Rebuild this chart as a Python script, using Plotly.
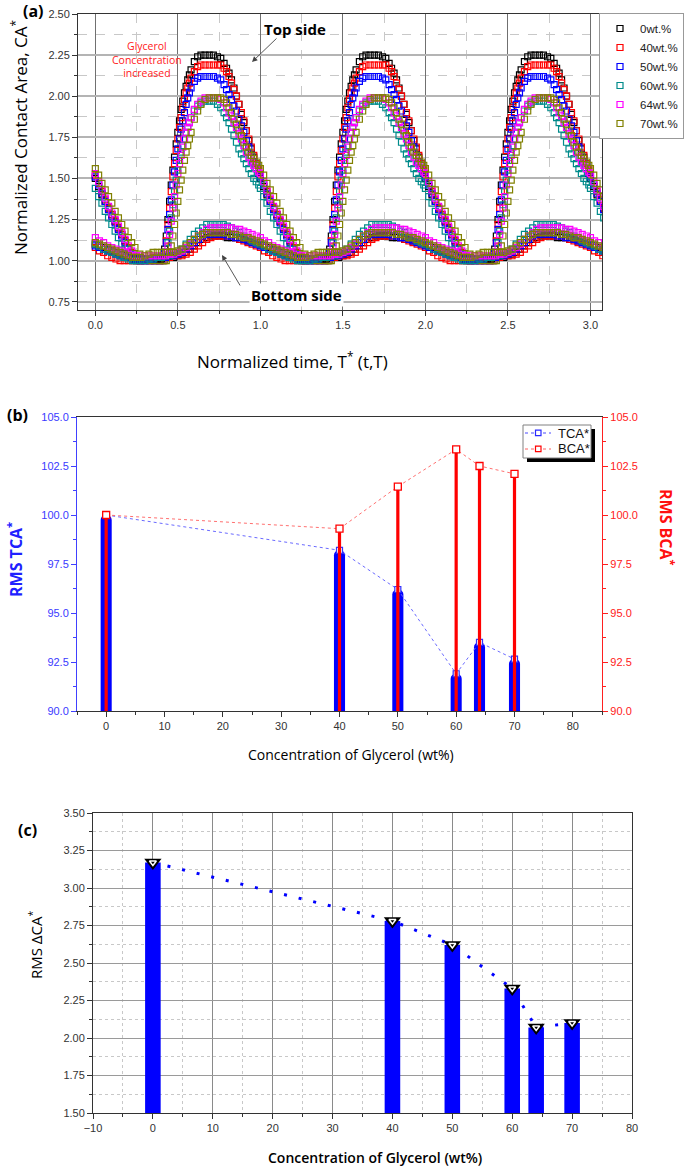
import numpy as np
import plotly.graph_objects as go

W, H = 685, 1168

# ---------------- Panel (a) data: one period of normalized time ----------------
n_cycles = 4
t_max = 3.1

labels_a = ["0wt.%", "40wt.%", "50wt.%", "60wt.%", "64wt.%", "70wt.%"]
colors_a = ["#000000", "#ff0000", "#0000ff", "#008b8b", "#ff00ff", "#808000"]

# sampling instants of the top-side curves within one period (denser where the curves are steep)
top_t = [0.00, 0.02, 0.04, 0.06, 0.08, 0.10, 0.12, 0.14, 0.16, 0.18, 0.20, 0.22, 0.24,
         0.27, 0.30, 0.33, 0.36, 0.39,
         0.41, 0.42, 0.43, 0.44, 0.45, 0.46, 0.47, 0.48, 0.49, 0.50, 0.51, 0.52, 0.53, 0.54,
         0.55, 0.56, 0.57, 0.58,
         0.60, 0.62, 0.64,
         0.665, 0.69, 0.715, 0.74, 0.76,
         0.78, 0.795, 0.81, 0.825, 0.84, 0.855, 0.87, 0.885, 0.90, 0.915, 0.93, 0.945, 0.96, 0.975, 0.99]

top_0 = [1.50, 1.45, 1.40, 1.36, 1.32, 1.28, 1.24, 1.20, 1.16, 1.12, 1.08, 1.05, 1.02,
         1.00, 1.00, 1.00, 1.00, 1.00,
         1.03, 1.07, 1.15, 1.25, 1.36, 1.46, 1.55, 1.63, 1.71, 1.78, 1.85, 1.92, 1.97, 2.02,
         2.06, 2.10, 2.13, 2.16,
         2.21, 2.24, 2.25,
         2.25, 2.25, 2.25, 2.24, 2.23,
         2.20, 2.17, 2.14, 2.10, 2.05, 2.00, 1.95, 1.89, 1.84, 1.79, 1.73, 1.68, 1.63, 1.58, 1.53]
top_40 = [1.52, 1.47, 1.42, 1.37, 1.32, 1.28, 1.24, 1.20, 1.16, 1.12, 1.08, 1.05, 1.02,
          1.00, 1.00, 1.00, 1.00, 1.00,
          1.02, 1.05, 1.12, 1.22, 1.32, 1.42, 1.51, 1.59, 1.67, 1.74, 1.81, 1.87, 1.93, 1.98,
          2.02, 2.05, 2.08, 2.11,
          2.15, 2.18, 2.19,
          2.19, 2.19, 2.19, 2.19, 2.19,
          2.17, 2.15, 2.12, 2.08, 2.04, 2.00, 1.95, 1.90, 1.85, 1.79, 1.74, 1.69, 1.64, 1.59, 1.55]
top_50 = [1.51, 1.46, 1.41, 1.36, 1.31, 1.27, 1.23, 1.19, 1.15, 1.11, 1.07, 1.04, 1.01,
          1.00, 1.00, 1.00, 1.00, 1.00,
          1.02, 1.05, 1.11, 1.19, 1.28, 1.37, 1.46, 1.54, 1.61, 1.68, 1.74, 1.80, 1.85, 1.90,
          1.95, 1.99, 2.02, 2.05,
          2.09, 2.11, 2.12,
          2.12, 2.12, 2.12, 2.11, 2.10,
          2.07, 2.04, 2.01, 1.98, 1.94, 1.91, 1.86, 1.82, 1.78, 1.73, 1.69, 1.64, 1.60, 1.56, 1.53]
top_60 = [1.44, 1.39, 1.35, 1.30, 1.26, 1.22, 1.18, 1.14, 1.10, 1.07, 1.04, 1.02, 1.00,
          1.00, 1.00, 1.00, 1.00, 1.00,
          1.00, 1.01, 1.05, 1.11, 1.18, 1.26, 1.34, 1.42, 1.49, 1.55, 1.61, 1.66, 1.70, 1.74,
          1.78, 1.81, 1.84, 1.87,
          1.91, 1.94, 1.96,
          1.97, 1.97, 1.97, 1.95, 1.93,
          1.90, 1.87, 1.84, 1.80, 1.76, 1.72, 1.68, 1.65, 1.62, 1.59, 1.56, 1.53, 1.50, 1.48, 1.46]
top_64 = [1.53, 1.48, 1.43, 1.38, 1.33, 1.29, 1.25, 1.21, 1.17, 1.13, 1.09, 1.06, 1.03,
          1.00, 1.00, 1.00, 1.00, 1.00,
          1.00, 1.01, 1.04, 1.09, 1.16, 1.24, 1.32, 1.39, 1.46, 1.53, 1.59, 1.64, 1.69, 1.74,
          1.78, 1.81, 1.84, 1.87,
          1.92, 1.95, 1.97,
          1.99, 1.99, 1.99, 1.99, 1.98,
          1.96, 1.93, 1.90, 1.88, 1.84, 1.81, 1.77, 1.74, 1.70, 1.66, 1.63, 1.60, 1.58, 1.56, 1.54]
top_70 = [1.56, 1.52, 1.47, 1.43, 1.39, 1.35, 1.30, 1.26, 1.22, 1.18, 1.14, 1.11, 1.08,
          1.04, 1.01, 1.00, 1.00, 1.00,
          1.00, 1.00, 1.00, 1.02, 1.05, 1.09, 1.15, 1.22, 1.29, 1.36, 1.43, 1.49, 1.55, 1.61,
          1.66, 1.70, 1.74, 1.78,
          1.86, 1.91, 1.95,
          1.98, 1.99, 1.99, 1.99, 1.99,
          1.98, 1.96, 1.93, 1.90, 1.86, 1.83, 1.79, 1.76, 1.72, 1.69, 1.66, 1.64, 1.62, 1.60, 1.58]

# sampling instants of the bottom-side curves within one period
bot_t = list(np.arange(0, 1, 0.025))

bot_0 = [1.10, 1.09, 1.08, 1.07, 1.06, 1.05, 1.04, 1.03, 1.02, 1.01,
         1.01, 1.01, 1.01, 1.01, 1.01, 1.01, 1.01, 1.02, 1.02, 1.02,
         1.03, 1.04, 1.05, 1.07, 1.09, 1.11, 1.13, 1.14, 1.15, 1.15,
         1.15, 1.15, 1.14, 1.14, 1.14, 1.13, 1.13, 1.12, 1.12, 1.11]
bot_40 = [1.08, 1.06, 1.05, 1.03, 1.02, 1.01, 1.00, 1.00, 1.00, 1.00,
          1.00, 1.00, 1.01, 1.01, 1.02, 1.02, 1.02, 1.02, 1.02, 1.03,
          1.03, 1.03, 1.04, 1.05, 1.07, 1.09, 1.11, 1.13, 1.14, 1.15,
          1.15, 1.15, 1.15, 1.15, 1.14, 1.13, 1.12, 1.11, 1.10, 1.09]
bot_50 = [1.09, 1.08, 1.07, 1.06, 1.05, 1.04, 1.03, 1.02, 1.02, 1.01,
          1.01, 1.01, 1.01, 1.01, 1.01, 1.02, 1.02, 1.02, 1.03, 1.03,
          1.04, 1.05, 1.07, 1.09, 1.11, 1.13, 1.15, 1.16, 1.16, 1.16,
          1.16, 1.16, 1.15, 1.15, 1.14, 1.14, 1.13, 1.12, 1.11, 1.10]
bot_60 = [1.10, 1.09, 1.07, 1.06, 1.05, 1.04, 1.03, 1.02, 1.01, 1.00,
          1.00, 1.00, 1.00, 1.01, 1.01, 1.02, 1.02, 1.03, 1.03, 1.04,
          1.05, 1.07, 1.10, 1.13, 1.16, 1.18, 1.20, 1.22, 1.22, 1.22,
          1.22, 1.22, 1.21, 1.20, 1.18, 1.17, 1.15, 1.14, 1.12, 1.11]
bot_64 = [1.14, 1.12, 1.11, 1.09, 1.08, 1.07, 1.06, 1.05, 1.04, 1.03,
          1.03, 1.03, 1.03, 1.03, 1.03, 1.03, 1.03, 1.03, 1.04, 1.04,
          1.05, 1.06, 1.08, 1.10, 1.13, 1.15, 1.17, 1.19, 1.20, 1.20,
          1.20, 1.20, 1.20, 1.20, 1.19, 1.19, 1.18, 1.17, 1.16, 1.15]
bot_70 = [1.11, 1.10, 1.09, 1.08, 1.07, 1.06, 1.05, 1.04, 1.03, 1.02,
          1.02, 1.02, 1.03, 1.04, 1.05, 1.05, 1.05, 1.05, 1.05, 1.05,
          1.06, 1.07, 1.09, 1.11, 1.13, 1.15, 1.16, 1.17, 1.17, 1.17,
          1.17, 1.17, 1.17, 1.16, 1.16, 1.15, 1.14, 1.14, 1.13, 1.12]

top_series = [top_0, top_40, top_50, top_60, top_64, top_70]
bot_series = [bot_0, bot_40, bot_50, bot_60, bot_64, bot_70]

# ---------------- Panel (b) / (c) data ----------------
conc = [0, 40, 50, 60, 64, 70]
rms_tca = [100.0, 98.2, 96.2, 91.9, 93.5, 92.65]
rms_bca = [100.0, 99.3, 101.45, 103.35, 102.5, 102.1]
rms_dca = [3.17, 2.78, 2.62, 2.33, 2.07, 2.10]
legend_b_labels = ["TCA*", "BCA*"]


def px(x):
    return x / W


def py(y):
    return 1 - y / H


def repeat_cycles(ts, vals):
    t_all, v_all = [], []
    for k in range(n_cycles):
        for tt, vv in zip(ts, vals):
            if tt + k <= t_max:
                t_all.append(tt + k)
                v_all.append(vv)
    return t_all, v_all


fig = go.Figure()

# Panel (a) traces
for lab, col, top in zip(labels_a, colors_a, top_series):
    tx, ty = repeat_cycles(top_t, top)
    fig.add_trace(go.Scatter(x=tx, y=ty, mode="markers", name=lab, legendgroup=lab,
                             marker=dict(symbol="square-open", size=6, color=col, line=dict(width=1.2, color=col)),
                             xaxis="x", yaxis="y"))
for lab, col, bot in zip(labels_a, colors_a, bot_series):
    tx, ty = repeat_cycles(bot_t, bot)
    fig.add_trace(go.Scatter(x=tx, y=ty, mode="markers", name=lab, legendgroup=lab, showlegend=False,
                             marker=dict(symbol="square-open", size=6, color=col, line=dict(width=1.2, color=col)),
                             xaxis="x", yaxis="y"))

# Panel (b) traces
fig.add_trace(go.Bar(x=conc, y=rms_tca, width=1.9, marker=dict(color="#0000ff", cornerradius="50%", line=dict(width=0)),
                     showlegend=False, xaxis="x2", yaxis="y2"))
fig.add_trace(go.Bar(x=conc, y=rms_bca, width=0.55, marker=dict(color="#ff0000", line=dict(width=0)),
                     showlegend=False, xaxis="x2", yaxis="y3"))
fig.add_trace(go.Scatter(x=conc, y=rms_tca, mode="lines+markers", name=legend_b_labels[0], showlegend=False,
                         line=dict(color="#6a6aff", width=1, dash="dot"),
                         marker=dict(symbol="square", size=6, color="white", line=dict(color="#3030ff", width=1.2)),
                         xaxis="x2", yaxis="y2"))
fig.add_trace(go.Scatter(x=conc, y=rms_bca, mode="lines+markers", name=legend_b_labels[1], showlegend=False,
                         line=dict(color="#ff7070", width=1, dash="dot"),
                         marker=dict(symbol="square", size=7, color="white", line=dict(color="#ff0000", width=1.3)),
                         xaxis="x2", yaxis="y3"))

# Panel (c) traces
fig.add_trace(go.Bar(x=conc, y=rms_dca, width=2.6, marker=dict(color="#0000ff", line=dict(width=0)),
                     showlegend=False, xaxis="x3", yaxis="y4"))
fig.add_trace(go.Scatter(x=conc, y=rms_dca, mode="lines", line=dict(color="#0000ff", width=3, dash="3px,12px"),
                         showlegend=False, xaxis="x3", yaxis="y4"))
fig.add_trace(go.Scatter(x=conc, y=rms_dca, mode="markers",
                         marker=dict(symbol="triangle-down", size=15, color="black", line=dict(width=0)),
                         showlegend=False, xaxis="x3", yaxis="y4"))
fig.add_trace(go.Scatter(x=conc, y=rms_dca, mode="markers",
                         marker=dict(symbol="triangle-down-open", size=6, color="white", line=dict(width=1.5, color="white")),
                         showlegend=False, xaxis="x3", yaxis="y4"))

tick_font = dict(family="Liberation Sans Narrow, Liberation Sans, Arial", size=11, color="#333333")

# ---------------- Axes ----------------
layout_axes = dict(
    # panel (a)
    xaxis=dict(domain=[px(78), px(602)], range=[-0.105, 3.07], anchor="y",
               tickmode="linear", tick0=0, dtick=0.5, tickformat=".1f",
               ticks="outside", ticklen=5, tickcolor="#333", tickfont=tick_font,
               showline=True, linecolor="#333", linewidth=1, mirror=True,
               showgrid=True, gridcolor="#707070", gridwidth=1, zeroline=False,
               minor=dict(dtick=0.25, ticks="outside", ticklen=3, tickcolor="#333",
                          showgrid=True, gridcolor="#c8c8c8", griddash="dash", gridwidth=1)),
    yaxis=dict(domain=[py(310), py(14)], range=[0.7, 2.5], anchor="x",
               tickmode="linear", tick0=0, dtick=0.25, tickformat=".2f",
               ticks="outside", ticklen=5, tickcolor="#333", tickfont=tick_font,
               showline=True, linecolor="#333", linewidth=1, mirror=True,
               showgrid=True, gridcolor="#b4b4b4", gridwidth=1.5, zeroline=False,
               minor=dict(dtick=0.125, ticks="outside", ticklen=3, tickcolor="#333",
                          showgrid=True, gridcolor="#c8c8c8", griddash="dash", gridwidth=1)),
    xaxis5=dict(overlaying="x", side="top", anchor="y", range=[-0.105, 3.07],
                tickmode="linear", tick0=0, dtick=0.5, ticks="inside", ticklen=4, tickcolor="#333",
                showticklabels=False, showgrid=False, zeroline=False, showline=False,
                minor=dict(dtick=0.25, ticks="inside", ticklen=3, tickcolor="#333")),
    yaxis5=dict(overlaying="y", side="right", anchor="x", range=[0.7, 2.5],
                tickmode="linear", tick0=0, dtick=0.25, ticks="inside", ticklen=4, tickcolor="#333",
                showticklabels=False, showgrid=False, zeroline=False, showline=False,
                minor=dict(dtick=0.125, ticks="inside", ticklen=3, tickcolor="#333")),
    # panel (b)
    xaxis2=dict(domain=[px(77), px(602)], range=[-5, 85], anchor="y2",
                tickmode="linear", tick0=0, dtick=10, ticks="outside", ticklen=5, tickcolor="#333",
                tickfont=tick_font, showline=True, linecolor="#333", linewidth=1, mirror=True,
                showgrid=False, zeroline=False,
                minor=dict(dtick=5, ticks="outside", ticklen=3, tickcolor="#333")),
    xaxis4=dict(overlaying="x2", side="top", anchor="y2", range=[-5, 85],
                tickmode="linear", tick0=0, dtick=10, ticks="inside", ticklen=5, tickcolor="#333",
                showticklabels=False, showgrid=False, zeroline=False, showline=False,
                minor=dict(dtick=5, ticks="inside", ticklen=3, tickcolor="#333")),
    yaxis2=dict(domain=[py(711), py(417)], range=[90, 105], anchor="x2",
                tickmode="linear", tick0=0, dtick=2.5, tickformat=".1f",
                ticks="outside", ticklen=5, tickcolor="#4040ff",
                tickfont=dict(family="Liberation Sans Narrow, Liberation Sans, Arial", size=11, color="#3a3aff"),
                showline=True, linecolor="#4040ff", linewidth=1, showgrid=False, zeroline=False,
                minor=dict(dtick=1.25, ticks="outside", ticklen=3, tickcolor="#4040ff")),
    yaxis3=dict(overlaying="y2", side="right", anchor="x2", range=[90, 105],
                tickmode="linear", tick0=0, dtick=2.5, tickformat=".1f",
                ticks="outside", ticklen=5, tickcolor="#ff2020",
                tickfont=dict(family="Liberation Sans Narrow, Liberation Sans, Arial", size=11, color="#ff2020"),
                showline=True, linecolor="#ff2020", linewidth=1.3, showgrid=False, zeroline=False,
                minor=dict(dtick=1.25, ticks="outside", ticklen=3, tickcolor="#ff2020")),
    # panel (c)
    xaxis3=dict(domain=[px(93), px(632)], range=[-10, 80], anchor="y4",
                tickmode="linear", tick0=0, dtick=10, ticks="outside", ticklen=5, tickcolor="#333",
                tickfont=tick_font, showline=True, linecolor="#333", linewidth=1, mirror=True,
                showgrid=True, gridcolor="#8a8a8a", gridwidth=1, zeroline=False,
                minor=dict(dtick=5, ticks="outside", ticklen=3, tickcolor="#333",
                           showgrid=True, gridcolor="#c8c8c8", griddash="dot", gridwidth=1)),
    yaxis4=dict(domain=[py(1113), py(813)], range=[1.5, 3.5], anchor="x3",
                tickmode="linear", tick0=0, dtick=0.25, tickformat=".2f",
                ticks="outside", ticklen=5, tickcolor="#333", tickfont=tick_font,
                showline=True, linecolor="#333", linewidth=1, mirror=True,
                showgrid=True, gridcolor="#9a9a9a", gridwidth=1.3, zeroline=False,
                minor=dict(dtick=0.125, ticks="outside", ticklen=3, tickcolor="#333",
                           showgrid=True, gridcolor="#c8c8c8", griddash="dot", gridwidth=1)),
    xaxis6=dict(overlaying="x3", side="top", anchor="y4", range=[-10, 80],
                tickmode="linear", tick0=0, dtick=10, ticks="inside", ticklen=4, tickcolor="#333",
                showticklabels=False, showgrid=False, zeroline=False, showline=False,
                minor=dict(dtick=5, ticks="inside", ticklen=3, tickcolor="#333")),
    yaxis6=dict(overlaying="y4", side="right", anchor="x3", range=[1.5, 3.5],
                tickmode="linear", tick0=0, dtick=0.25, ticks="inside", ticklen=4, tickcolor="#333",
                showticklabels=False, showgrid=False, zeroline=False, showline=False,
                minor=dict(dtick=0.125, ticks="inside", ticklen=3, tickcolor="#333")),
)

title_font = "Open Sans, Noto Sans, DejaVu Sans"


def ann(x, y, text, size=14, color="black", angle=0, weight="normal", xanchor="center", family=title_font, **kw):
    d = dict(x=px(x), y=py(y), xref="paper", yref="paper", text=text, showarrow=False,
             textangle=angle, xanchor=xanchor, yanchor="middle",
             font=dict(family=family, size=size, color=color, weight=weight))
    d.update(kw)
    return d


def arrow(xh, yh, xt, yt):
    return dict(x=px(xh), y=py(yh), xref="paper", yref="paper", text="", showarrow=True,
                ax=xt - xh, ay=yt - yh, axref="pixel", ayref="pixel",
                arrowhead=2, arrowsize=1.2, arrowwidth=0.9, arrowcolor="#444")


def rect(x0, y0, x1, y1, fill, line_color=None, lw=0):
    return dict(type="rect", xref="paper", yref="paper", x0=px(x0), x1=px(x1), y0=py(y1), y1=py(y0),
                fillcolor=fill, line=dict(width=lw, color=line_color or fill), layer="above")


def seg(x0, x1, y, color):
    return dict(type="line", xref="paper", yref="paper", x0=px(x0), x1=px(x1), y0=py(y), y1=py(y),
                line=dict(width=1, color=color, dash="dot"), layer="above")


legend_font = "Liberation Sans, Arial"

annotations = [
    ann(33, 11, "(a)", size=16, weight="bold"),
    ann(17, 415, "(b)", size=16, weight="bold"),
    ann(27, 830, "(c)", size=16, weight="bold"),
    ann(20, 138, "Normalized Contact Area, CA<sup>*</sup>", size=17, angle=-90),
    ann(292, 360, "Normalized time, T<sup>*</sup> (t,T)", size=17),
    ann(295, 29, "Top side", size=15, weight="bold"),
    ann(147, 60, "Glycerol<br>Concentration<br>increased", size=10.5, color="#ff2020"),
    ann(296, 295, "Bottom side", size=15, weight="bold", bgcolor="white", borderpad=1),
    arrow(252, 62, 278, 37),
    arrow(222, 255, 241, 287),
    ann(15, 560, "RMS TCA<sup>*</sup>", size=16, color="#2020ff", angle=-90, weight="bold"),
    ann(667, 527, "RMS BCA<sup>*</sup>", size=16, color="#ff1010", angle=90, weight="bold"),
    ann(351, 755, "Concentration of Glycerol (wt%)", size=14),
    ann(35, 945, "RMS ΔCA<sup>*</sup>", size=15, angle=-90),
    ann(375, 1157, "Concentration of Glycerol (wt%)", size=14, weight=600),
    # legend of panel (b)
    ann(556, 433, legend_b_labels[0], size=13, xanchor="left", family=legend_font, color="#111"),
    ann(556, 449, legend_b_labels[1], size=13, xanchor="left", family=legend_font, color="#111"),
]

shapes = [
    # legend box of panel (b) with its drop shadow
    rect(527, 429, 595, 462, "black"),
    rect(523, 425, 591, 458, "white", "#808080", 1),
    seg(525, 551, 433, "#4a4aff"),
    rect(535.5, 430.2, 541, 435.7, "white", "#2a2aff", 1.2),
    seg(525, 551, 449, "#ff6060"),
    rect(535.5, 446.2, 541, 451.7, "white", "#ff0000", 1.2),
]

fig.update_layout(
    width=W, height=H, autosize=False,
    margin=dict(l=0, r=0, t=0, b=0, autoexpand=False),
    paper_bgcolor="white", plot_bgcolor="white",
    barmode="overlay",
    annotations=annotations,
    shapes=shapes,
    legend=dict(x=px(684), y=py(13), xanchor="right", yanchor="top",
                bgcolor="white", bordercolor="#999", borderwidth=1,
                font=dict(family=legend_font, size=11.5, color="#222"),
                tracegroupgap=0, itemwidth=30),
    **layout_axes,
)

# remove the browser's default 8 px page margin so the figure fills the window exactly
fig.write_html("out.html", config={"displayModeBar": False},
               post_script="document.body.style.margin='0px';")
